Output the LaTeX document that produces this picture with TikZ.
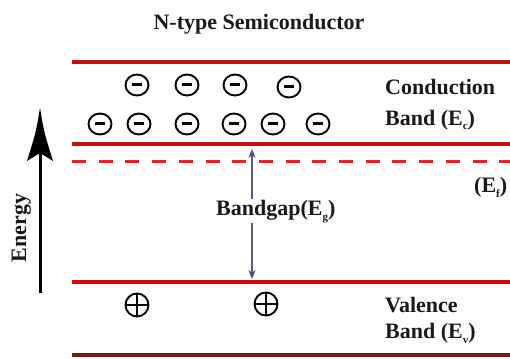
\documentclass[tikz,border=0pt]{standalone}
\usepackage{fontspec}
\setmainfont{Liberation Serif}
\usetikzlibrary{arrows.meta}
\definecolor{bandred}{RGB}{200,12,12}
\definecolor{banddark}{RGB}{115,25,15}
\definecolor{fermired}{RGB}{225,35,45}
\definecolor{gapblue}{RGB}{70,70,145}
\tikzset{
  lbl/.style={font=\bfseries\fontsize{22}{24}\selectfont, inner sep=0pt, anchor=base west, text=black!90},
  bandline/.style={line width=4pt, draw=bandred},
  bottomline/.style={line width=4pt, draw=banddark},
  fermi/.style={line width=3pt, draw=fermired, dash pattern=on 14pt off 12.7pt},
  electron/.style={ellipse, draw=black, line width=1.9pt, minimum width=23pt, minimum height=21pt, inner sep=0pt,
    font=\fontsize{1}{1}\selectfont},
  hole/.style={circle, draw=black, line width=1.9pt, minimum size=23pt, inner sep=0pt,
    path picture={\draw[line width=2.4pt] (path picture bounding box.west) -- (path picture bounding box.east);
                  \draw[line width=2.4pt] (path picture bounding box.north) -- (path picture bounding box.south);}},
  gaparrow/.style={line width=1.8pt, draw=gapblue!70!gray, {Stealth[length=9pt,width=7pt,gapblue]}-{Stealth[length=9pt,width=7pt,gapblue]}},
}
\usetikzlibrary{shapes.geometric}
\newcommand{\minusbar}{\rule[-1.5pt]{10pt}{3pt}}
\newcommand{\lowsub}[1]{\raisebox{-5pt}{\fontsize{11}{11}\selectfont #1}}
\begin{document}
\begin{tikzpicture}[x=1pt,y=-1pt]
\useasboundingbox (0,0) rectangle (510,358);
\clip (0,0) rectangle (510,358);

% title
\node[lbl, anchor=base] (title) at (259,30) {N-type Semiconductor};

% band lines
\coordinate (ctL) at (72,62);  \coordinate (ctR) at (512,62);
\coordinate (cbL) at (72,144); \coordinate (cbR) at (512,144);
\coordinate (fL) at (72,161);  \coordinate (fR) at (512,161);
\coordinate (vL) at (72,282);  \coordinate (vR) at (512,282);
\coordinate (bL) at (72,355);  \coordinate (bR) at (512,355);
\draw[bandline] (ctL) -- (ctR);
\draw[bandline] (cbL) -- (cbR);
\draw[fermi] (fL) -- (fR);
\draw[bandline] (vL) -- (vR);
\draw[bottomline] (bL) -- (bR);

% electrons
\node[electron] (e1) at (137,85) {\minusbar};
\node[electron] (e2) at (187,85) {\minusbar};
\node[electron] (e3) at (235,85) {\minusbar};
\node[electron] (e4) at (289,87) {\minusbar};
\node[electron] (e5) at (100,124) {\minusbar};
\node[electron] (e6) at (139,124) {\minusbar};
\node[electron] (e7) at (187,124) {\minusbar};
\node[electron] (e8) at (234,124) {\minusbar};
\node[electron] (e9) at (273,124) {\minusbar};
\node[electron] (e10) at (318,124) {\minusbar};

% holes
\node[hole] (h1) at (137,305) {};
\node[hole] (h2) at (266,304) {};

% labels
\node[lbl] (cond) at (385,95) {Conduction};
\node[lbl] (condband) at (385,125) {Band (E\lowsub{c})};
\node[lbl] (ef) at (474,192) {(E\lowsub{f})};
\node[lbl] (val) at (385,312) {Valence};
\node[lbl] (valband) at (385,338) {Band (E\lowsub{v})};

% bandgap arrow
\coordinate (gtop) at (252,149);
\coordinate (gbot) at (252,279);
\draw[gaparrow] (gtop) -- (gbot);
\node[lbl, fill=white, inner sep=1pt] (gap) at (215,215) {Bandgap(E\lowsub{g})};

% energy arrow
\coordinate (ebot) at (40,293);
\coordinate (etip) at (40,108);
\coordinate (eneck) at (40,152);
\draw[line width=3pt, black] (ebot) -- (eneck);
\fill[black] (etip) .. controls (44,132) .. (53,161) -- (40,153) -- (27,161) .. controls (36,132) .. (etip);
\node[lbl, anchor=base, rotate=90] (energy) at (26,228) {Energy};
\end{tikzpicture}
\end{document}
